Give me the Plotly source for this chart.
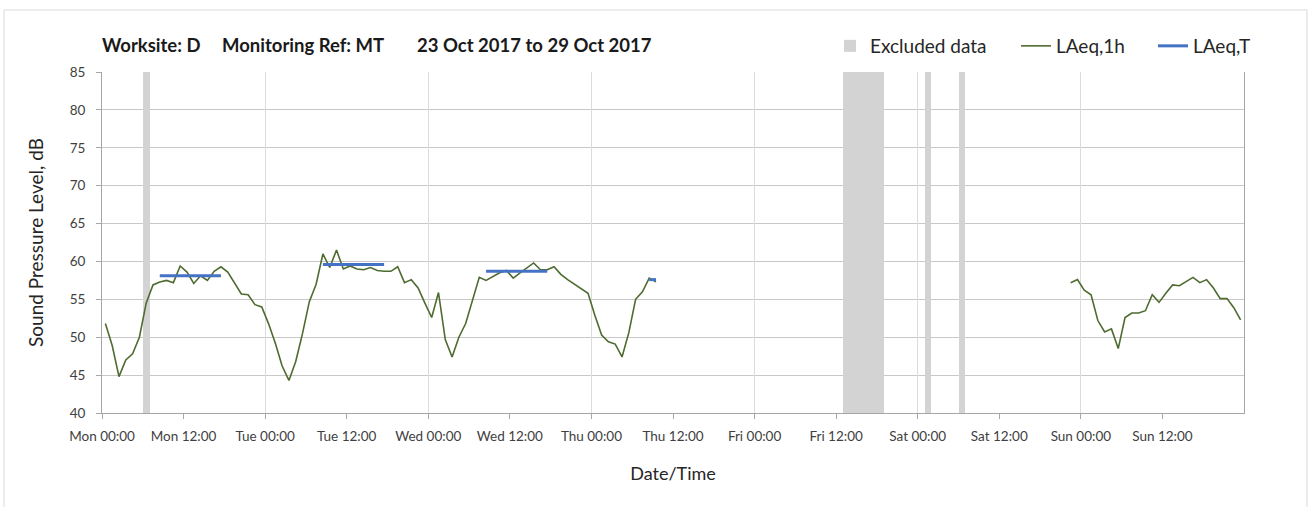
import pandas as pd
import plotly.graph_objects as go

# ---------------- data ----------------
# hourly LAeq values, plotted at the middle of each hour
laeq_1h_start_a = "2017-10-23 00:30"
laeq_1h_a = [51.8, 48.9, 44.8, 47.0, 47.8, 50.0, 54.5, 56.9, 57.3, 57.5,
             57.2, 59.4, 58.6, 57.1, 58.1, 57.5, 58.7, 59.3, 58.6, 57.2,
             55.7, 55.6, 54.3, 54.0, 51.8, 49.2, 46.2, 44.3, 46.8, 50.5,
             54.7, 57.0, 61.0, 59.2, 61.5, 59.0, 59.4, 59.0, 58.9, 59.2,
             58.8, 58.7,
             58.7, 59.3, 57.2, 57.6, 56.5, 54.5, 52.6, 55.9, 49.7, 47.4,
             50.0, 51.8, 54.7, 57.9, 57.5, 58.0, 58.5, 58.8, 57.8, 58.5,
             59.1, 59.8, 58.9, 58.9, 59.3, 58.3, 57.6, 57.0, 56.3, 55.8,
             52.9, 50.3, 49.4, 49.1, 47.4, 50.6, 55.0, 56.0, 57.8, 57.3]
laeq_1h_start_b = "2017-10-28 22:30"
laeq_1h_b = [57.2, 57.6, 56.2, 55.6, 52.2, 50.7, 51.1, 48.5, 52.6, 53.2,
             53.2, 53.5, 55.6, 54.6, 55.8, 56.9, 56.8, 57.3, 57.9, 57.2,
             57.6, 56.5, 55.1, 55.1, 53.9, 52.3]

# LAeq,T periods: start, end, level
laeq_t_start = ["2017-10-23 08:30", "2017-10-24 08:30", "2017-10-25 08:30", "2017-10-26 08:30"]
laeq_t_end = ["2017-10-23 17:30", "2017-10-24 17:30", "2017-10-25 17:30", "2017-10-26 09:30"]
laeq_t_level = [58.1, 59.6, 58.7, 57.6]

# excluded data periods
excl_start = ["2017-10-23 06:00", "2017-10-27 13:00", "2017-10-28 01:00", "2017-10-28 06:00"]
excl_end = ["2017-10-23 07:00", "2017-10-27 19:00", "2017-10-28 02:00", "2017-10-28 07:00"]

y_min, y_max = 40, 85
x_start, x_end = "2017-10-23 00:00", "2017-10-30 00:00"

title_parts = ["Worksite: D", "Monitoring Ref: MT", "23 Oct 2017 to 29 Oct 2017"]

# ---------------- build ----------------
FONT = "Lato, 'Open Sans', sans-serif"
GREEN = "#4E6B30"
BLUE = "#4472C4"
BAND = "#D3D3D3"

ta = pd.date_range(laeq_1h_start_a, periods=len(laeq_1h_a), freq="h")
tb = pd.date_range(laeq_1h_start_b, periods=len(laeq_1h_b), freq="h")
x_green = list(ta) + [None] + list(tb)
y_green = list(laeq_1h_a) + [None] + list(laeq_1h_b)

x_blue, y_blue = [], []
for s, e, v in zip(laeq_t_start, laeq_t_end, laeq_t_level):
    x_blue += [pd.Timestamp(s), pd.Timestamp(e), None]
    y_blue += [v, v, None]

es = [pd.Timestamp(s) for s in excl_start]
ee = [pd.Timestamp(e) for e in excl_end]
band_x = [s + (e - s) / 2 for s, e in zip(es, ee)]
band_w = [(e - s).total_seconds() * 1000 for s, e in zip(es, ee)]

fig = go.Figure()
fig.add_trace(go.Bar(
    x=band_x, y=[y_max - y_min] * len(band_x), base=[y_min] * len(band_x),
    width=band_w, marker=dict(color=BAND, line=dict(width=0)),
    name="Excluded data", hoverinfo="skip", legend="legend"))
fig.add_trace(go.Scatter(
    x=x_green, y=y_green, mode="lines", name="LAeq,1h", xaxis="x2",
    line=dict(color=GREEN, width=1.6), connectgaps=False, legend="legend2"))
fig.add_trace(go.Scatter(
    x=x_blue, y=y_blue, mode="lines", name="LAeq,T", xaxis="x2",
    line=dict(color=BLUE, width=3), connectgaps=False, legend="legend3"))

L, R, T, B = 102, 65, 72, 94
W, H = 1309, 507
pw, ph = W - L - R, H - T - B

def px(xp):
    return (xp - L) / pw

def py(yp):
    return (H - B - yp) / ph

tickvals = pd.date_range(x_start, x_end, freq="12h")[:-1]

leg_common = dict(orientation="h", xanchor="left", yanchor="middle", y=py(46),
                  font=dict(size=19, color="#262626"), bgcolor="rgba(0,0,0,0)",
                  borderwidth=0, itemwidth=30)

fig.update_layout(
    width=W, height=H,
    margin=dict(l=L, r=R, t=T, b=B),
    paper_bgcolor="white", plot_bgcolor="white",
    font=dict(family=FONT, size=13, color="#262626"),
    bargap=0,
    xaxis=dict(
        type="date", range=[x_start, x_end],
        tickmode="array", tickvals=list(tickvals), tickformat="%a %H:%M",
        ticks="outside", ticklen=5, tickcolor="#A6A6A6",
        showgrid=False, showline=True, linecolor="#A6A6A6", linewidth=1,
        zeroline=False, ticklabelstandoff=6,
        tickfont=dict(size=13.5, color="#404040"),
        title=dict(text="Date/Time", standoff=24, font=dict(size=18, color="#262626")),
    ),
    xaxis2=dict(
        type="date", range=[x_start, x_end], overlaying="x",
        dtick=86400000, tick0=x_start,
        showgrid=True, gridcolor="#DCDCDC", gridwidth=1,
        showticklabels=False, ticks="", showline=False, zeroline=False,
    ),
    yaxis=dict(
        range=[y_min, y_max], dtick=5, tick0=40,
        ticks="outside", ticklen=5, tickcolor="#A6A6A6",
        showgrid=True, gridcolor="#C8C8C8", gridwidth=1,
        showline=True, linecolor="#A6A6A6", linewidth=1, mirror=True,
        zeroline=False, ticklabelstandoff=8,
        tickfont=dict(size=13.5, color="#404040"),
        title=dict(text="Sound Pressure Level, dB", standoff=20, font=dict(size=19, color="#262626")),
    ),
    legend=dict(x=px(830), **leg_common),
    legend2=dict(x=px(1016), **leg_common),
    legend3=dict(x=px(1153), **leg_common),
    showlegend=True,
)

# chart-area border
fig.add_shape(type="rect", xref="paper", yref="paper",
              x0=px(4), x1=px(1307), y0=py(520), y1=py(10),
              line=dict(color="#D9D9D9", width=1), fillcolor="rgba(0,0,0,0)", layer="below")

for txt, xpix in zip(title_parts, [100, 220, 415]):
    fig.add_annotation(text="<b>" + txt + "</b>", xref="paper", yref="paper",
                       x=px(xpix), y=py(45), xanchor="left", yanchor="middle",
                       showarrow=False, font=dict(size=18.5, color="#1a1a1a"))

fig.write_html("out.html", config={"displayModeBar": False},
               post_script="document.body.style.margin='0';")
